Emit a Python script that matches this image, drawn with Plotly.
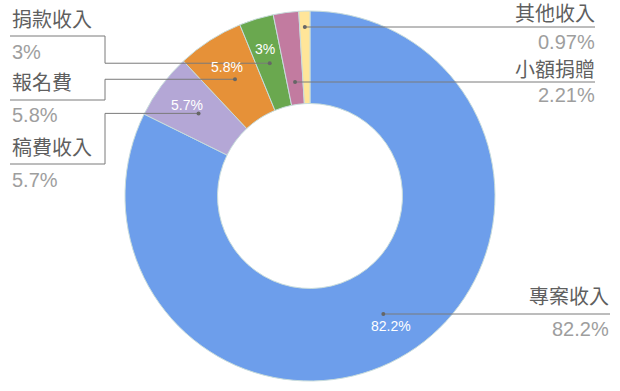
import math
import plotly.graph_objects as go

# ---- data ----
labels = ["專案收入", "稿費收入", "報名費", "捐款收入", "小額捐贈", "其他收入"]
values = [82.2, 5.7, 5.8, 3, 2.21, 0.97]
pct_text = ["82.2%", "5.7%", "5.8%", "3%", "2.21%", "0.97%"]
colors = ["#6d9eeb", "#b4a7d6", "#e69138", "#6aa84f", "#c27ba0", "#ffe599"]

# ---- label layout (pixel positions of the outside labels) ----
label_side = ["right", "left", "left", "left", "right", "right"]
label_x = [611, 10, 10, 10, 597, 597]
line_end_x = [610, 10, 10, 10, 595, 595]
sep_y = [314, 164, 100, 36, 82, 27]
name_y = [297, 148, 83, 20, 70, 14]
value_y = [329, 180, 115, 52, 95, 42]

W, H = 620, 391
CX, CY, R = 310, 196, 185
HOLE = 0.5
ELBOW_X = 105
MID_R = R * (1 + HOLE) / 2
TEXT_R = R * 0.83

FONT = "'Liberation Sans', Arial, 'Noto Sans CJK TC', sans-serif"


def px(x):
    return x / W


def py(y):
    return 1 - y / H


fig = go.Figure(go.Pie(
    labels=labels,
    values=values,
    hole=HOLE,
    sort=False,
    direction="clockwise",
    rotation=0,
    textinfo="none",
    marker=dict(colors=colors, line=dict(color="#c8dcdc", width=1)),
    domain=dict(x=[px(CX - R), px(CX + R)], y=[py(CY + R), py(CY - R)]),
    showlegend=False,
    hoverinfo="label+percent",
))

total = sum(values)
shapes = []
annotations = []
cum = 0.0
for i, v in enumerate(values):
    theta = math.radians((cum + v / 2) / total * 360)
    cum += v
    s, c = math.sin(theta), math.cos(theta)
    # inside percentage text
    if v >= 3:
        annotations.append(dict(
            x=px(CX + TEXT_R * s), y=py(CY - TEXT_R * c), xref="paper", yref="paper",
            text=pct_text[i], showarrow=False, xanchor="center", yanchor="middle",
            font=dict(family=FONT, size=14, color="white")))
    # leader line
    if label_side[i] == "left":
        dx, dy = CX + MID_R * s, CY - MID_R * c
        pts = [(line_end_x[i], sep_y[i]), (ELBOW_X, sep_y[i]), (ELBOW_X, dy), (dx, dy)]
    else:
        r = (CY - sep_y[i]) / c
        dx, dy = CX + r * s, sep_y[i]
        pts = [(dx, dy), (line_end_x[i], dy)]
    path = "M " + " L ".join(f"{px(a)},{py(b)}" for a, b in pts)
    shapes.append(dict(type="path", xref="paper", yref="paper", path=path,
                       line=dict(color="#7a7a7a", width=1)))
    shapes.append(dict(type="circle", xref="paper", yref="paper",
                       x0=px(dx - 2), x1=px(dx + 2), y0=py(dy + 2), y1=py(dy - 2),
                       fillcolor="#666666", line=dict(width=0)))
    anchor = "left" if label_side[i] == "left" else "right"
    annotations.append(dict(
        x=px(label_x[i]), y=py(name_y[i]), xref="paper", yref="paper",
        text=labels[i], showarrow=False, xanchor=anchor, yanchor="middle",
        font=dict(family=FONT, size=20, color="#5f5f5f")))
    annotations.append(dict(
        x=px(label_x[i]), y=py(value_y[i]), xref="paper", yref="paper",
        text=pct_text[i], showarrow=False, xanchor=anchor, yanchor="middle",
        font=dict(family=FONT, size=20, color="#9e9e9e")))

fig.update_layout(
    width=W, height=H,
    margin=dict(l=0, r=0, t=0, b=0),
    paper_bgcolor="white", plot_bgcolor="white",
    shapes=shapes, annotations=annotations,
)

fig.write_html("out.html", config={"displayModeBar": False},
               post_script="document.body.style.margin='0';")
